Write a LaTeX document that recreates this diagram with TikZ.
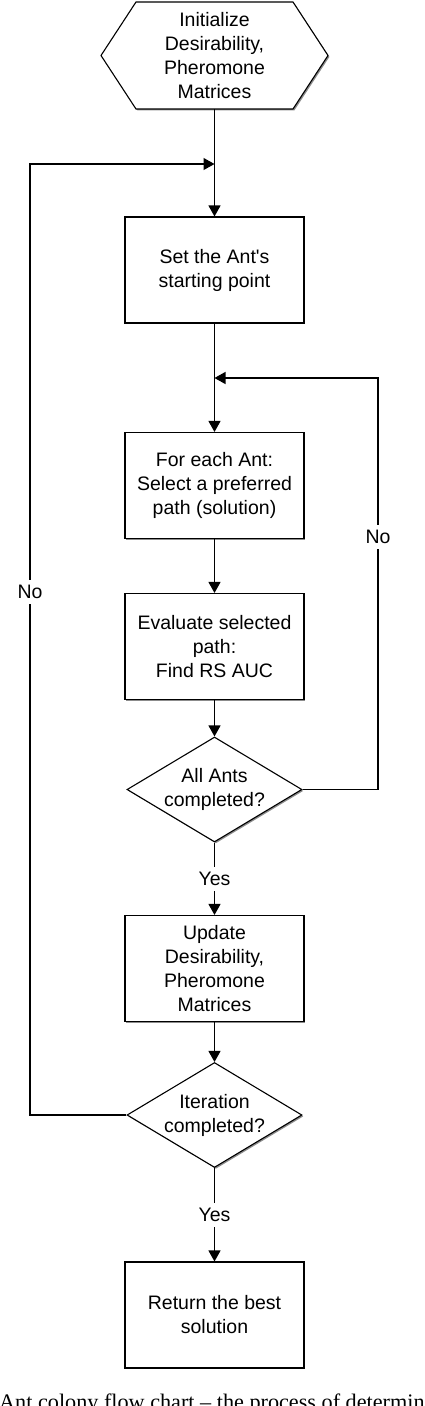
\documentclass[tikz,border=0pt]{standalone}
\usepackage{fontspec}
\setmainfont{Liberation Serif}
\newfontfamily\arialfont{Liberation Sans}
\usetikzlibrary{shapes.geometric,arrows.meta,shadows}
\newcommand\dfont{\arialfont\fontsize{19.5}{24}\selectfont}
\begin{document}
\begin{tikzpicture}[x=1pt,y=-1pt,
  shad/.style={drop shadow={shadow xshift=1.4pt,shadow yshift=-1.4pt,fill=black!45,opacity=1}},
  box/.style={draw,line width=1.1pt,fill=white,shad,minimum width=179,minimum height=106,inner sep=0,align=center,font=\dfont},
  dec/.style={draw,line width=1.1pt,fill=white,shad,diamond,aspect=1.67,minimum width=175,minimum height=105,inner sep=0,align=center,font=\dfont},
  txt/.style={inner sep=0,align=center,font=\dfont},
  arr/.style={line width=1.2pt,-{Triangle[length=11pt,width=12pt]}},
  lbl/.style={fill=white,inner xsep=2pt,inner ysep=5pt,font=\dfont}]
\useasboundingbox (0,0) rectangle (424,1406);
\fill[white] (0,0) rectangle (424,1406);
% hexagon
\draw[line width=1.1pt,fill=white,shad] (101,55.5) -- (136,2) -- (293,2) -- (328,55.5) -- (293,109) -- (136,109) -- cycle;
\node[txt,minimum width=227,minimum height=107] (init) at (214.5,55.5) {Initialize\\Desirability,\\Pheromone\\Matrices};
\node[box] (set) at (214.5,270) {Set the Ant's\\starting point};
\node[box] (sel) at (214.5,485.5) {For each Ant:\\Select a preferred\\path (solution)};
\node[box] (eval) at (214.5,646.5) {Evaluate selected\\path:\\Find RS AUC};
\node[dec] (ants) at (214.5,789.5) {All Ants\\completed?};
\node[box] (upd) at (214.5,968.5) {Update\\Desirability,\\Pheromone\\Matrices};
\node[dec] (iter) at (214.5,1115) {Iteration\\completed?};
\node[box] (ret) at (214.5,1315) {Return the best\\solution};
\coordinate (m1) at (214.5,164);
\coordinate (m2) at (214.5,378);
\coordinate (l1) at (30,1115);
\coordinate (l2) at (30,164);
\coordinate (r1) at (378,789.5);
\coordinate (r2) at (378,378);
\draw[arr] (init.south) -- (set.north);
\draw[arr] (set.south) -- (sel.north);
\draw[arr] (sel.south) -- (eval.north);
\draw[arr] (eval.south) -- (ants.north);
\draw[arr] (ants.south) -- node[lbl]{Yes} (upd.north);
\draw[arr] (upd.south) -- (iter.north);
\draw[arr] (iter.south) -- node[lbl]{Yes} (ret.north);
\draw[arr] (iter.west) -- (l1) -- node[lbl,pos=0.55]{No} (l2) -- (m1);
\draw[arr] (ants.east) -- (r1) -- node[lbl,pos=0.613]{No} (r2) -- (m2);
\node[anchor=base west,inner sep=0,font=\fontsize{22.2}{26}\selectfont] (cap) at (-1,1409) {Ant colony flow chart – the process of determin};
\end{tikzpicture}
\end{document}
